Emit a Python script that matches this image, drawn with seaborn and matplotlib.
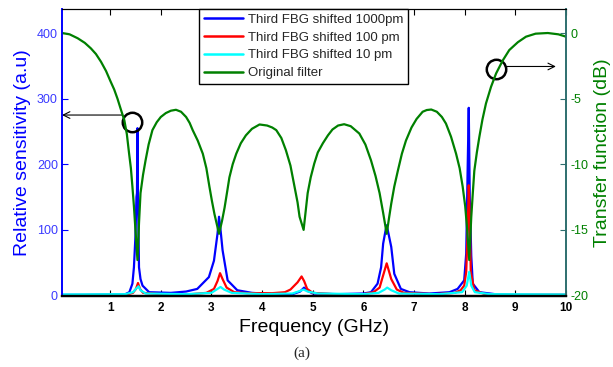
import matplotlib
matplotlib.use("Agg")
import matplotlib.pyplot as plt
import seaborn as sns
import numpy as np
import pandas as pd

# ---------------- data ----------------
blue_freq = [0.05, 0.5, 1.0, 1.3, 1.38, 1.44, 1.47, 1.50, 1.52, 1.53, 1.54, 1.55, 1.56, 1.57,
             1.60, 1.64, 1.77, 2.2, 2.5, 2.72, 2.95, 3.05, 3.12, 3.15, 3.18, 3.22, 3.32, 3.51,
             3.8, 4.2, 4.6, 4.75, 4.83, 4.9, 5.0, 5.5, 6.0, 6.15, 6.28, 6.35, 6.39, 6.44, 6.46,
             6.48, 6.55, 6.61, 6.74, 6.91, 7.3, 7.7, 7.86, 7.99, 8.03, 8.06, 8.08, 8.10, 8.13,
             8.16, 8.29, 8.6, 9.0, 9.5, 10.0]
blue_sens = [1, 1, 1.5, 2, 5, 18, 43, 90, 150, 156, 255, 150, 100, 43,
             25, 15, 5, 4, 6, 10, 28, 53, 94, 120, 100, 69, 23, 8,
             4, 2, 2, 6, 12, 7, 3, 2, 3, 5, 18, 43, 79, 100, 107,
             100, 74, 33, 10, 5, 3, 5, 10, 23, 64, 200, 286, 150, 60,
             18, 5, 2, 1, 1, 1]

red_freq = [0.05, 1.3, 1.45, 1.51, 1.55, 1.59, 1.65, 2.0, 2.6, 2.9, 3.05, 3.12, 3.17, 3.22,
            3.30, 3.45, 3.7, 4.2, 4.45, 4.56, 4.70, 4.78, 4.83, 4.89, 5.0, 5.4, 6.0, 6.2, 6.32,
            6.38, 6.46, 6.55, 6.66, 6.8, 7.4, 7.8, 7.92, 7.99, 8.03, 8.06, 8.08, 8.10, 8.12,
            8.19, 8.4, 9.0, 10.0]
red_sens = [0.5, 1, 4, 10, 19, 10, 4, 2, 2, 4, 10, 22, 34, 25,
            12, 5, 3.5, 3.5, 5, 9, 20, 29, 22, 10, 4, 2, 2, 5, 12,
            28, 49, 25, 9, 4, 2, 4, 8, 15, 36, 100, 168, 120, 36,
            8, 2, 1, 1]

cyan_freq = [0.05, 1.3, 1.45, 1.52, 1.56, 1.6, 1.7, 2.5, 3.0, 3.1, 3.18, 3.25, 3.4, 4.0,
             4.6, 4.75, 4.82, 4.9, 5.1, 6.0, 6.3, 6.42, 6.47, 6.55, 6.7, 7.5, 7.95, 8.04,
             8.09, 8.13, 8.2, 8.5, 10.0]
cyan_sens = [1.5, 2, 5, 11, 14, 8, 3, 2, 4, 9, 13, 9, 4, 2,
             3, 7, 9, 6, 3, 2, 4, 9, 12, 8, 3, 2, 5, 15,
             36, 15, 5, 2, 1.5]

filter_freq = [0.05, 0.2, 0.36, 0.5, 0.62, 0.72, 0.82, 0.92, 1.01, 1.08, 1.145, 1.21, 1.28,
               1.33, 1.375, 1.41, 1.44, 1.47, 1.50, 1.54, 1.57, 1.60, 1.65, 1.70, 1.76, 1.835,
               1.92, 2.0, 2.1, 2.2, 2.30, 2.40, 2.50, 2.57, 2.63, 2.73, 2.83, 2.90, 2.96, 3.01,
               3.06, 3.15, 3.21, 3.26, 3.31, 3.355, 3.42, 3.49, 3.58, 3.68, 3.8, 3.95, 4.1,
               4.2, 4.28, 4.38, 4.47, 4.56, 4.64, 4.70, 4.74, 4.82, 4.86, 4.90, 4.96, 5.03,
               5.1, 5.2, 5.3, 5.39, 5.5, 5.62, 5.75, 5.92, 6.04, 6.15, 6.24, 6.32, 6.39, 6.46,
               6.51, 6.55, 6.61, 6.68, 6.76, 6.84, 6.95, 7.05, 7.17, 7.25, 7.34, 7.45, 7.55,
               7.63, 7.73, 7.83, 7.90, 7.96, 8.01, 8.05, 8.09, 8.13, 8.16, 8.19, 8.24, 8.29,
               8.35, 8.42, 8.52, 8.62, 8.75, 8.88, 9.05, 9.21, 9.4, 9.64, 9.85, 10.0]
filter_db = [0.0, -0.1, -0.4, -0.75, -1.17, -1.6, -2.19, -2.9, -3.7, -4.3, -5.0, -5.8, -6.64,
             -7.7, -9.2, -10.3, -11.7, -13.2, -15.0, -17.3, -14.5, -12.2, -10.8, -9.7, -8.5, -7.4,
             -6.8, -6.4, -6.1, -5.92, -5.85, -6.0, -6.4, -6.85, -7.4, -8.2, -9.2, -10.3, -11.7, -12.8,
             -13.8, -15.3, -14.3, -13.3, -12.1, -11.0, -10.0, -9.2, -8.4, -7.8, -7.3, -6.97, -7.05,
             -7.2, -7.4, -8.0, -8.93, -10.1, -11.7, -12.9, -14.0, -15.0, -13.6, -12.2, -11.0, -9.95,
             -9.1, -8.4, -7.8, -7.35, -7.05, -6.95, -7.1, -7.66, -8.5, -9.7, -10.9, -12.2, -13.7, -15.3,
             -14.0, -13.0, -11.7, -10.5, -9.2, -8.2, -7.2, -6.55, -6.0, -5.87, -5.83, -6.0, -6.4,
             -6.9, -7.9, -9.2, -10.3, -11.7, -13.2, -15.0, -17.3, -14.0, -12.2, -10.5, -9.1, -7.9,
             -6.6, -5.37, -4.1, -3.08, -2.1, -1.3, -0.7, -0.28, -0.05, 0.0, -0.1, -0.28]

labels = ["Third FBG shifted 1000pm", "Third FBG shifted 100 pm",
          "Third FBG shifted 10 pm", "Original filter"]

# annotation anchors (left-axis units)
circle1 = (1.44, 264)
arrow1 = ((1.24, 275), (0.05, 275))
circle2 = (8.62, 345)
arrow2 = ((8.82, 349), (9.80, 349))

# ---------------- figure ----------------
sns.set_style("ticks")
plt.rcParams['font.family'] = ['Liberation Sans', 'DejaVu Sans']

W, H = 613, 367
fig = plt.figure(figsize=(W / 100, H / 100), dpi=100)
ax = fig.add_axes([62 / W, 1 - 296 / H, 504 / W, 287 / H])
ax2 = ax.twinx()

BLUE = "#0000FF"
RED = "#FF0000"
CYAN = "#00FFFF"
GREEN = "#008000"
TEAL = "#2E6E6E"

lw = 1.6
sns.lineplot(x=blue_freq, y=blue_sens, ax=ax, color=BLUE, lw=lw, sort=False, estimator=None)
sns.lineplot(x=red_freq, y=red_sens, ax=ax, color=RED, lw=lw, sort=False, estimator=None)
sns.lineplot(x=cyan_freq, y=cyan_sens, ax=ax, color=CYAN, lw=lw, sort=False, estimator=None)
sns.lineplot(x=filter_freq, y=filter_db, ax=ax2, color=GREEN, lw=lw, sort=False, estimator=None)

ax.set_xlim(0.05, 10.0)
ax.set_ylim(-0.8, 436.6)
ax2.set_ylim(-20.04, 1.83)

ax.set_xticks(range(1, 11))
ax.set_xticklabels([str(i) for i in range(1, 11)], fontweight='bold', fontsize=8.5)
ax.set_yticks([0, 100, 200, 300, 400])
ax2.set_yticks([0, -5, -10, -15, -20])
ax2.set_yticklabels(["0", "-5", "-10", "-15", "-20"])

ax.tick_params(axis='x', direction='in', top=True, length=4, width=0.8, colors='black', pad=4)
ax.tick_params(axis='y', direction='in', length=4, width=0.8, colors=BLUE, labelsize=9, pad=3)
ax.tick_params(axis='y', labelcolor="#3A3AFF")
ax2.tick_params(axis='y', direction='in', length=4, width=0.8, colors=TEAL, labelcolor=GREEN,
                labelsize=9, pad=3)

for a in (ax, ax2):
    a.spines['top'].set_color('black')
    a.spines['bottom'].set_color('black')
    a.spines['bottom'].set_linewidth(1.6)
    a.spines['left'].set_color(BLUE)
    a.spines['right'].set_color(TEAL)
    a.spines['left'].set_linewidth(1.2)
    a.spines['right'].set_linewidth(1.2)

ax.set_xlabel("Frequency (GHz)", fontsize=14, color='black', labelpad=4)
ax.set_ylabel("Relative sensitivity (a.u)", fontsize=14, color=BLUE, labelpad=4)
ax2.set_ylabel("Transfer function (dB)", fontsize=14, color=GREEN, labelpad=4)

# annotations
for (cx, cy) in (circle1, circle2):
    ax.plot([cx], [cy], marker='o', markersize=14, markerfacecolor='none',
            markeredgecolor='black', markeredgewidth=1.8, zorder=5)
for (start, end) in (arrow1, arrow2):
    ax.annotate("", xy=end, xytext=start,
                arrowprops=dict(arrowstyle='->', color='black', lw=0.8,
                                mutation_scale=12, shrinkA=0, shrinkB=0))

handles = ax.get_lines()[:3] + ax2.get_lines()[:1]
leg = fig.legend(handles, labels, loc='upper left',
                 bbox_to_anchor=(199 / W, 1 - 9 / H), fontsize=9.5,
                 frameon=True, fancybox=False, edgecolor='black', framealpha=1,
                 handlelength=3.0, handletextpad=0.4, labelspacing=0.42,
                 borderpad=0.35, borderaxespad=0)
leg.get_frame().set_linewidth(1.0)
for h in leg.legend_handles:
    h.set_linewidth(1.8)

fig.text(302 / W, 1 - 353 / H, "(a)", fontsize=11, ha='center', va='center',
         family=['Liberation Serif', 'DejaVu Serif'])

fig.savefig("out.png", dpi=100)
